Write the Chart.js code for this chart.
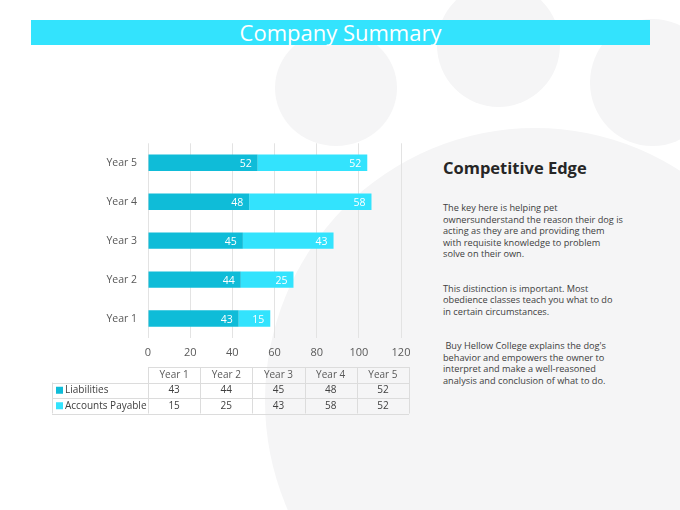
<!DOCTYPE html>
<html>
<head>
<meta charset="utf-8">
<script src="https://cdn.jsdelivr.net/npm/chart.js@4.4.0/dist/chart.umd.min.js"></script>
<style>
  html, body { margin:0; padding:0; }
  body { width:680px; height:510px; position:relative; overflow:hidden; background:#fff; font-family:"Open Sans", sans-serif; }
  .pad { position:absolute; background:#f5f5f6; border-radius:50%; }
  #title { position:absolute; left:31px; top:20px; width:619px; height:25px; background:#33e3fd; color:#fff;
           font-size:22px; line-height:25px; text-align:center; }
  #wrap { position:absolute; left:40px; top:126px; width:380px; height:299px; }
  #side { position:absolute; left:443px; top:156px; width:230px; color:#404040; }
  #side h2 { margin:0 0 22px 0; font-size:16.5px; font-weight:bold; color:#262626; line-height:24px; }
  #side p { margin:0 0 23px 0; font-size:9.2px; line-height:11.5px; }
</style>
</head>
<body>
<div class="pad" style="left:275px;top:30px;width:122px;height:116px"></div>
<div class="pad" style="left:437px;top:-17px;width:123px;height:124px"></div>
<div class="pad" style="left:590px;top:19px;width:125px;height:127px"></div>
<div class="pad" style="left:265px;top:128px;width:540px;height:545px"></div>

<div id="title">Company Summary</div>

<div id="wrap"><canvas id="cv"></canvas></div>

<div id="side">
  <h2>Competitive Edge</h2>
  <p>The key here is helping pet<br>ownersunderstand the reason their dog is<br>acting as they are and providing them<br>with requisite knowledge to problem<br>solve on their own.</p>
  <p>This distinction is important. Most<br>obedience classes teach you what to do<br>in certain circumstances.</p>
  <p>&nbsp;Buy Hellow College explains the dog's<br>behavior and empowers the owner to<br>interpret and make a well-reasoned<br>analysis and conclusion of what to do.</p>
</div>

<script>
var years = ['Year 1','Year 2','Year 3','Year 4','Year 5'];
var liabilities = [43, 44, 45, 48, 52];
var accountsPayable = [15, 25, 43, 58, 52];
var xTicks = [0, 20, 40, 60, 80, 100, 120];

var darkCyan = '#0fbcd8';
var lightCyan = '#33e3fd';

// white numbers at the end of each bar piece
var barLabels = {
  id: 'barLabels',
  afterDatasetsDraw: function(chart){
    var ctx = chart.ctx;
    ctx.save();
    ctx.font = '10.5px "Open Sans"';
    ctx.fillStyle = '#fff';
    ctx.textAlign = 'right';
    ctx.textBaseline = 'middle';
    chart.data.datasets.forEach(function(ds, i){
      chart.getDatasetMeta(i).data.forEach(function(el, j){
        ctx.fillText(ds.data[j], el.x - 6, el.y + 1);
      });
    });
    ctx.restore();
  }
};

// data table under the chart
var dataTable = {
  id: 'dataTable',
  afterDraw: function(chart){
    var ctx = chart.ctx;
    var left = chart.scales.x.left;
    var colW = 52.2, rowH = 15.5, labelLeft = 12;
    var top = Math.round(chart.scales.x.bottom) + 7;
    var right = left + colW * years.length;
    ctx.save();
    ctx.strokeStyle = '#dcdcdc';
    ctx.lineWidth = 1;
    ctx.beginPath();
    ctx.moveTo(left, top + 0.5); ctx.lineTo(right, top + 0.5);
    for (var r = 1; r <= 3; r++) {
      var yy = Math.round(top + r * rowH) + 0.5;
      ctx.moveTo(labelLeft, yy); ctx.lineTo(right, yy);
    }
    for (var c = 0; c <= years.length; c++) {
      var xx = Math.round(left + c * colW) + 0.5;
      ctx.moveTo(xx, top); ctx.lineTo(xx, top + 3 * rowH);
    }
    ctx.moveTo(labelLeft + 0.5, top + rowH); ctx.lineTo(labelLeft + 0.5, top + 3 * rowH);
    ctx.stroke();

    ctx.font = '10px "Open Sans"';
    ctx.textBaseline = 'middle';
    ctx.fillStyle = '#595959';
    ctx.textAlign = 'center';
    years.forEach(function(y, c){
      ctx.fillText(y, left + (c + 0.5) * colW, top + rowH / 2);
    });
    var rows = [[chart.data.datasets[0].label, liabilities, darkCyan],
                [chart.data.datasets[1].label, accountsPayable, lightCyan]];
    rows.forEach(function(row, r){
      var cy = top + (r + 1.5) * rowH;
      ctx.fillStyle = row[2];
      ctx.fillRect(labelLeft + 4, cy - 3.5, 7, 7);
      ctx.fillStyle = '#404040';
      ctx.textAlign = 'left';
      ctx.fillText(row[0], labelLeft + 13, cy);
      ctx.textAlign = 'center';
      row[1].forEach(function(v, c){
        ctx.fillText(v, left + (c + 0.5) * colW, cy);
      });
    });
    ctx.restore();
  }
};

new Chart(document.getElementById('cv'), {
  type: 'bar',
  data: {
    labels: years,
    datasets: [
      { label: 'Liabilities', data: liabilities, backgroundColor: darkCyan, categoryPercentage: 1, barPercentage: 0.42 },
      { label: 'Accounts Payable', data: accountsPayable, backgroundColor: lightCyan, categoryPercentage: 1, barPercentage: 0.42 }
    ]
  },
  options: {
    indexAxis: 'y',
    responsive: true,
    maintainAspectRatio: false,
    animation: false,
    layout: { padding: { top: 0, right: 19, bottom: 65, left: 0 } },
    plugins: { legend: { display: false }, tooltip: { enabled: false } },
    scales: {
      x: {
        stacked: true, min: 0, max: 120,
        afterBuildTicks: function(s){ s.ticks = xTicks.map(function(v){ return { value: v }; }); },
        afterFit: function(s){ s.height = 22; },
        grid: { color: '#e3e3e3', drawTicks: false },
        border: { display: false },
        ticks: { color: '#595959', font: { family: 'Open Sans', size: 11 }, padding: 8 }
      },
      y: {
        stacked: true, reverse: true,
        afterFit: function(s){ s.width = 108; },
        grid: { display: false, drawTicks: false },
        border: { display: false },
        ticks: { color: '#595959', font: { family: 'Open Sans', size: 10.5 }, padding: 11 }
      }
    }
  },
  plugins: [barLabels, dataTable]
});
</script>
</body>
</html>
